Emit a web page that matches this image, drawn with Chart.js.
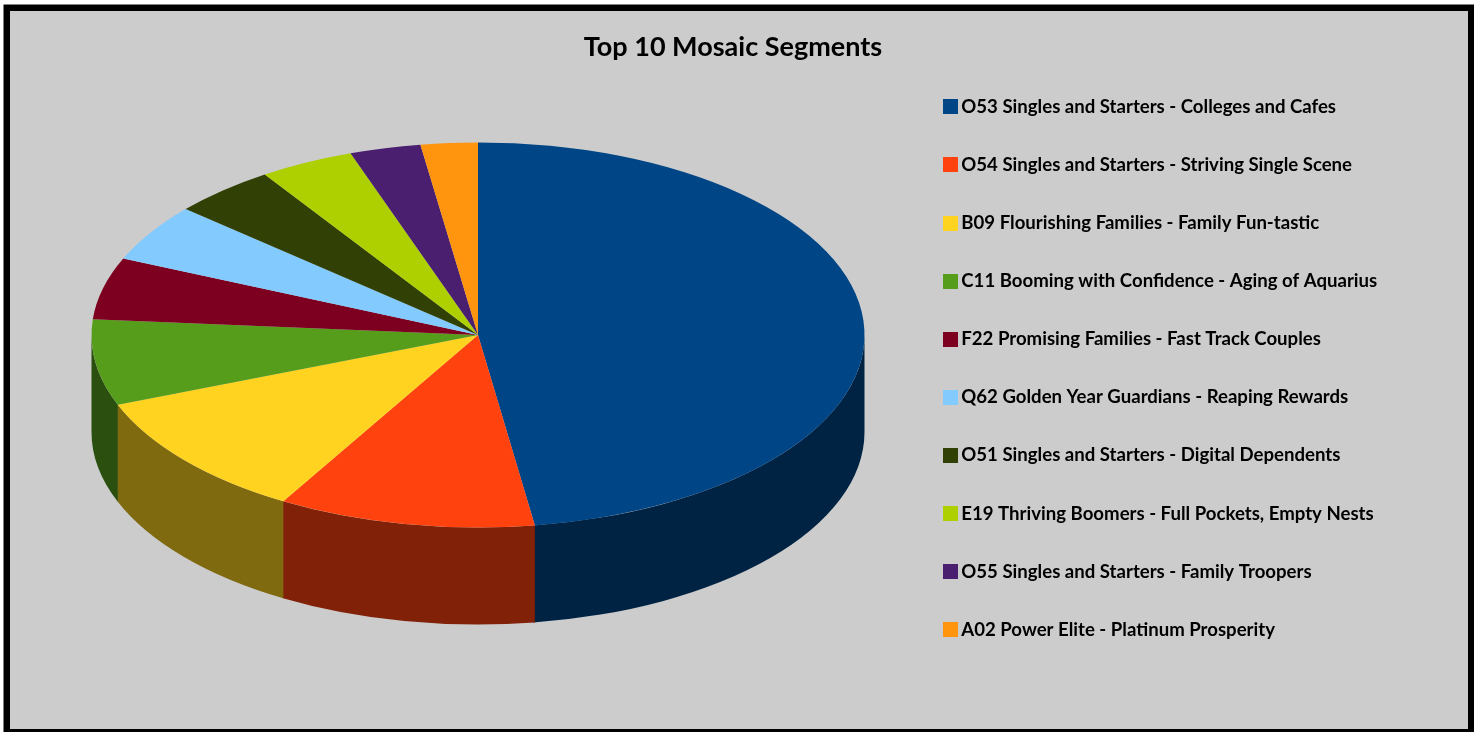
<!DOCTYPE html>
<html><head><meta charset="utf-8">
<style>html,body{margin:0;padding:0;background:#fff;overflow:hidden}canvas{display:block}#w{position:absolute;left:0;top:0;width:1478px;height:732px}</style>
<script src="https://cdn.jsdelivr.net/npm/chart.js@4"></script>
</head><body><div id="w"><canvas id="c" width="1478" height="732" style="width:1478px;height:732px"></canvas></div>
<script>
const chartTitle = 'Top 10 Mosaic Segments';
const categories = [
 'O53 Singles and Starters - Colleges and Cafes',
 'O54 Singles and Starters - Striving Single Scene',
 'B09 Flourishing Families - Family Fun-tastic',
 'C11 Booming with Confidence - Aging of Aquarius',
 'F22 Promising Families - Fast Track Couples',
 'Q62 Golden Year Guardians - Reaping Rewards',
 'O51 Singles and Starters - Digital Dependents',
 'E19 Thriving Boomers - Full Pockets, Empty Nests',
 'O55 Singles and Starters - Family Troopers',
 'A02 Power Elite - Platinum Prosperity'];
const shares = [47.65, 10.75, 10.7, 7.2, 5.2, 4.85, 4.35, 3.95, 2.97, 2.38];
const topColors = ['#004586','#FF420E','#FFD320','#579D1C','#7E0021','#83CAFF','#314004','#AECF00','#4B1F6F','#FF950E'];
const sideColors = ['#002343','#812108','#806A10','#2B4F0E','#3F0011','#426580','#192002','#586800','#261038','#804B07'];

function swatch(color){
  const s=document.createElement('canvas'); s.width=15; s.height=15;
  const x=s.getContext('2d'); x.fillStyle=color; x.fillRect(0,0,15,15); return s;
}
const frame={id:'frame',
  afterLayout(ch){ ch.legend.left=909.5; ch.legend.top+=27; ch.legend.bottom+=27; },
  beforeDraw(ch){
    const c=ch.ctx; c.save();
    c.fillStyle='#000'; c.fillRect(3.5,4.5,1470.5,727.5);
    c.fillStyle='#CCCCCC'; c.fillRect(10,11,1458,718);
    c.restore();
  }};
// Tilted-disc look: the library's own arc elements are drawn under an elliptical transform,
// and the front wall of each slice is swept from that element's own angles.
const tilted={id:'tilted',
  beforeDatasetDraw(ch,args){
    const c=ch.ctx, arcs=ch.getDatasetMeta(args.index).data;
    const r=arcs[0].outerRadius, cx=arcs[0].x, cy=arcs[0].y;
    const sy=192.5/r, depth=97/sy;
    c.save();
    c.translate(478,335); c.scale(386.5/r,sy); c.translate(-cx,-cy);
    arcs.forEach((a,i)=>{
      const s=Math.max(a.startAngle,0), e=Math.min(a.endAngle,Math.PI);
      if(e<=s) return;
      const e2=Math.min(e+0.004,Math.PI);
      c.beginPath();
      c.arc(cx,cy,r,s,e2);
      c.arc(cx,cy+depth,r,e2,s,true);
      c.closePath();
      c.fillStyle=sideColors[i];
      c.fill();
    });
    arcs.forEach(a=>a.draw(c));
    c.restore();
    return false;
  }};
new Chart(document.getElementById('c'),{
  type:'pie',
  data:{labels:categories,datasets:[{data:shares,backgroundColor:topColors,borderWidth:0,hoverOffset:0}]},
  options:{
    responsive:false,animation:false,devicePixelRatio:1,
    layout:{padding:{top:31,right:12,left:0,bottom:0}},
    plugins:{
      tooltip:{enabled:false},
      title:{display:true,text:chartTitle,color:'#000',font:{family:'Lato',size:27,weight:'bold'},padding:{top:0,bottom:8}},
      legend:{position:'right',align:'start',
        labels:{color:'#000',font:{family:'Lato',size:18.6,weight:'bold'},usePointStyle:true,boxWidth:3,boxHeight:15,padding:39.5,
          generateLabels(ch){
            return Chart.overrides.doughnut.plugins.legend.labels.generateLabels(ch).map((l,i)=>Object.assign(l,{pointStyle:swatch(topColors[i])}));
          }}}
    }
  },
  plugins:[frame,tilted]
});
</script></body></html>
